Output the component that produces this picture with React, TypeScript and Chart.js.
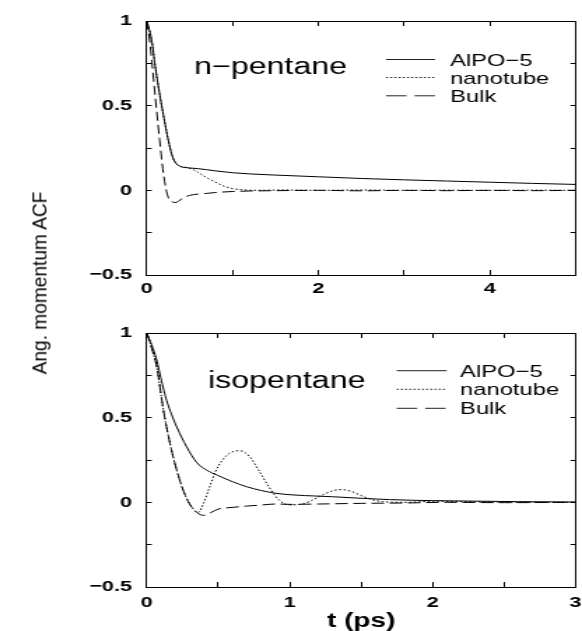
import React, { useEffect, useRef } from "react";
import { Chart, registerables } from "chart.js";
Chart.register(...registerables);

// ---------- data: n-pentane panel ----------
const npAlpoT = [0, 0.03, 0.06, 0.1, 0.15, 0.2, 0.25, 0.3, 0.35, 0.4, 0.5, 0.6, 0.7, 0.8, 1.0, 1.2, 1.5, 2.0, 2.5, 3.0, 3.5, 4.0, 4.5, 5.0];
const npAlpoV = [1, 0.95, 0.88, 0.73, 0.57, 0.43, 0.3, 0.2, 0.155, 0.14, 0.132, 0.128, 0.122, 0.115, 0.104, 0.097, 0.09, 0.08, 0.07, 0.062, 0.055, 0.048, 0.041, 0.035];
const npNanoT = [0, 0.03, 0.06, 0.1, 0.15, 0.2, 0.25, 0.3, 0.35, 0.4, 0.47, 0.55, 0.6, 0.65, 0.7, 0.75, 0.8, 0.9, 1.0, 1.1, 1.3, 1.6, 2.0, 2.5, 3.0, 3.5, 4.0, 4.5, 5.0];
const npNanoV = [1, 0.95, 0.88, 0.73, 0.57, 0.43, 0.3, 0.2, 0.155, 0.14, 0.135, 0.12, 0.106, 0.09, 0.075, 0.062, 0.049, 0.025, 0.01, 0.004, 0.0, 0.002, 0.0, 0.002, 0.0, 0.001, 0.0, 0.001, 0.0];
const npBulkT = [0, 0.03, 0.06, 0.1, 0.15, 0.2, 0.25, 0.3, 0.33, 0.37, 0.42, 0.5, 0.6, 0.7, 0.8, 1.0, 1.2, 1.5, 2.0, 2.5, 3.0, 3.5, 4.0, 4.5, 5.0];
const npBulkV = [1, 0.9, 0.76, 0.55, 0.3, 0.08, -0.04, -0.068, -0.072, -0.065, -0.045, -0.03, -0.022, -0.018, -0.013, -0.007, -0.004, -0.002, 0.0, -0.003, 0.0, -0.002, 0.0, -0.002, 0.0];

// ---------- data: isopentane panel ----------
const isoAlpoT = [0, 0.035, 0.07, 0.1, 0.14, 0.21, 0.28, 0.35, 0.42, 0.5, 0.6, 0.7, 0.8, 0.9, 1.0, 1.1, 1.3, 1.5, 1.7, 2.0, 2.3, 2.6, 3.0];
const isoAlpoV = [1, 0.93, 0.84, 0.73, 0.6, 0.446, 0.327, 0.235, 0.19, 0.158, 0.122, 0.092, 0.07, 0.054, 0.045, 0.04, 0.033, 0.024, 0.016, 0.01, 0.007, 0.004, 0.002];
const isoNanoT = [0, 0.035, 0.07, 0.117, 0.163, 0.21, 0.256, 0.3, 0.36, 0.4, 0.44, 0.48, 0.53, 0.58, 0.65, 0.72, 0.79, 0.86, 0.93, 1.0, 1.07, 1.14, 1.22, 1.3, 1.36, 1.43, 1.5, 1.58, 1.65, 1.8, 2.0, 2.3, 2.6, 3.0];
const isoNanoV = [1, 0.91, 0.8, 0.544, 0.347, 0.19, 0.07, -0.008, -0.06, 0.0, 0.09, 0.18, 0.25, 0.29, 0.305, 0.27, 0.18, 0.085, 0.01, -0.015, -0.012, 0.005, 0.04, 0.068, 0.075, 0.065, 0.04, 0.015, 0.004, 0.0, 0.006, 0.003, 0.001, 0.0];
const isoBulkT = [0, 0.035, 0.07, 0.117, 0.163, 0.21, 0.256, 0.3, 0.35, 0.4, 0.45, 0.5, 0.6, 0.7, 0.8, 0.9, 1.0, 1.2, 1.5, 1.8, 2.1, 2.5, 3.0];
const isoBulkV = [1, 0.91, 0.8, 0.544, 0.347, 0.19, 0.07, -0.01, -0.06, -0.077, -0.06, -0.04, -0.03, -0.022, -0.016, -0.01, -0.012, -0.01, -0.006, -0.004, 0.0, -0.002, 0.0];

// ---------- labels / ticks ----------
const seriesLabels = ["AlPO\u22125", "nanotube", "Bulk"];
const npXLabels = [0, 2, 4];
const isoXLabels = [0, 1, 2, 3];
const yLabels = [-0.5, 0, 0.5, 1];
const npTitle = "n\u2212pentane";
const isoTitle = "isopentane";
const xTitle = "t (ps)";
const yTitle = "Ang. momentum ACF";

const FONT = '"Liberation Sans", Arial, Helvetica, sans-serif';
const CW = 416; // intrinsic canvas width
const SX = 582 / CW; // horizontal stretch (reference is stretched)

const toXY = (t: number[], v: number[]) => t.map((x, i) => ({ x, y: v[i] }));
const fmt = (v: number) => {
  const r = Math.round(v * 100) / 100;
  return r < 0 ? "\u2212" + Math.abs(r) : String(r);
};
const has = (arr: number[], v: number) => arr.some((a) => Math.abs(a - v) < 1e-6);

const panelText = {
  id: "panelText",
  afterDraw(chart: any, _args: any, o: any) {
    const ctx = chart.ctx;
    ctx.save();
    ctx.fillStyle = "#000";
    ctx.textAlign = "left";
    ctx.textBaseline = "alphabetic";
    ctx.font = `23px ${FONT}`;
    ctx.fillText(o.title, o.titleX / SX, o.titleY);
    ctx.font = `17px ${FONT}`;
    chart.data.datasets.forEach((ds: any, i: number) => {
      const y = o.legendY[i];
      ctx.beginPath();
      ctx.setLineDash(ds.legendDash || []);
      ctx.strokeStyle = "#222";
      ctx.lineWidth = 1;
      ctx.moveTo(o.lineX0 / SX, y);
      ctx.lineTo(o.lineX1 / SX, y);
      ctx.stroke();
      ctx.setLineDash([]);
      ctx.fillText(ds.label, o.textX / SX, y + 6);
    });
    ctx.restore();
  },
};

const tickFont = { family: FONT, size: 15.5, weight: "bold" as const };
const gridOpts = (tl: number) => ({
  drawOnChartArea: false,
  drawTicks: true,
  tickLength: tl,
  color: "#000",
  lineWidth: 1,
});
const borderOpts = { display: true, color: "#000", width: 1 };

function makeConfig(p: any): any {
  const ds = (label: string, t: number[], v: number[], dash: number[], legendDash: number[]) => ({
    label,
    data: toXY(t, v),
    borderColor: "#000",
    borderWidth: 1,
    borderDash: dash,
    legendDash,
    pointRadius: 0,
    fill: false,
    cubicInterpolationMode: "monotone",
  });
  return {
    type: "line",
    data: {
      datasets: [
        ds(seriesLabels[0], p.alpo[0], p.alpo[1], [], []),
        ds(seriesLabels[1], p.nano[0], p.nano[1], [1.5, 1.8], [1.5, 1.5]),
        ds(seriesLabels[2], p.bulk[0], p.bulk[1], [9, 4], [14.6, 5.8]),
      ],
    },
    plugins: [panelText],
    options: {
      responsive: false,
      devicePixelRatio: 1,
      animation: false,
      events: [],
      layout: { padding: { left: 0, top: p.top, right: CW - 575.5 / SX, bottom: 0 } },
      plugins: {
        legend: { display: false },
        tooltip: { enabled: false },
        title: { display: false },
        panelText: p.text,
      },
      scales: {
        x: {
          type: "linear",
          position: "bottom",
          min: 0,
          max: p.xMax,
          grid: gridOpts(-5),
          border: borderOpts,
          ticks: {
            stepSize: p.xStep,
            autoSkip: false,
            maxRotation: 0,
            color: "#000",
            font: tickFont,
            padding: p.xPad,
            callback: (v: number) => (has(p.xLabels, v) ? fmt(v) : ""),
          },
          title: p.xTitle
            ? { display: true, text: p.xTitle, color: "#000", font: { family: FONT, size: 20, weight: "bold", lineHeight: 1 }, padding: 0 }
            : { display: false },
          afterFit: (s: any) => {
            s.height = p.xH;
            s.paddingLeft = 0;
            s.paddingRight = 0;
          },
        },
        x2: {
          type: "linear",
          position: "top",
          min: 0,
          max: p.xMax,
          grid: gridOpts(-5),
          border: borderOpts,
          ticks: { stepSize: p.xStep, autoSkip: false, display: false },
          afterFit: (s: any) => {
            s.height = 0;
            s.paddingLeft = 0;
            s.paddingRight = 0;
          },
        },
        y: {
          type: "linear",
          position: "left",
          min: -0.5,
          max: 1,
          grid: gridOpts(-3.6),
          border: borderOpts,
          ticks: {
            stepSize: 0.25,
            autoSkip: false,
            color: "#000",
            font: tickFont,
            padding: 14.1,
            callback: (v: number) => (has(yLabels, v) ? fmt(v) : ""),
          },
          afterFit: (s: any) => {
            s.width = 146.7 / SX;
            s.paddingTop = 0;
            s.paddingBottom = 0;
          },
        },
        y2: {
          type: "linear",
          position: "right",
          min: -0.5,
          max: 1,
          grid: gridOpts(-3.6),
          border: borderOpts,
          ticks: { stepSize: 0.25, autoSkip: false, display: false },
          afterFit: (s: any) => {
            s.width = 0;
            s.paddingTop = 0;
            s.paddingBottom = 0;
          },
        },
      },
    },
  };
}

const topPanel = {
  alpo: [npAlpoT, npAlpoV],
  nano: [npNanoT, npNanoV],
  bulk: [npBulkT, npBulkV],
  xMax: 5,
  xStep: 1,
  xLabels: npXLabels,
  xPad: 9,
  xH: 25,
  top: 21,
  xTitle: null,
  text: { title: npTitle, titleX: 194, titleY: 74.3, lineX0: 386, lineX1: 435, textX: 450, legendY: [59.5, 77.5, 95.8] },
};

const bottomPanel = {
  alpo: [isoAlpoT, isoAlpoV],
  nano: [isoNanoT, isoNanoV],
  bulk: [isoBulkT, isoBulkV],
  xMax: 3,
  xStep: 0.5,
  xLabels: isoXLabels,
  xPad: 11.5,
  xH: 44,
  top: 33,
  xTitle: xTitle,
  text: { title: isoTitle, titleX: 208, titleY: 88.3, lineX0: 396.7, lineX1: 446.7, textX: 460, legendY: [70.7, 89.3, 108.3] },
};

function Panel({ top, height, panel }: { top: number; height: number; panel: any }) {
  const ref = useRef<HTMLCanvasElement>(null);
  useEffect(() => {
    const c = new Chart(ref.current as HTMLCanvasElement, makeConfig(panel));
    return () => c.destroy();
  }, []);
  return (
    <canvas
      ref={ref}
      width={CW}
      height={height}
      style={{ position: "absolute", left: 0, top, width: 582, height }}
    />
  );
}

export default function App() {
  return (
    <div style={{ position: "absolute", left: 0, top: 0, width: 582, height: 631, background: "#fff" }}>
      <Panel top={0} height={300} panel={topPanel} />
      <Panel top={300} height={331} panel={bottomPanel} />
      <div
        style={{
          position: "absolute",
          left: 39.4,
          top: 283,
          transform: "translate(-50%, -50%) rotate(-90deg) scaleX(0.91)",
          fontFamily: FONT,
          fontSize: 21,
          lineHeight: "21px",
          whiteSpace: "nowrap",
          color: "#000",
        }}
      >
        {yTitle}
      </div>
    </div>
  );
}
